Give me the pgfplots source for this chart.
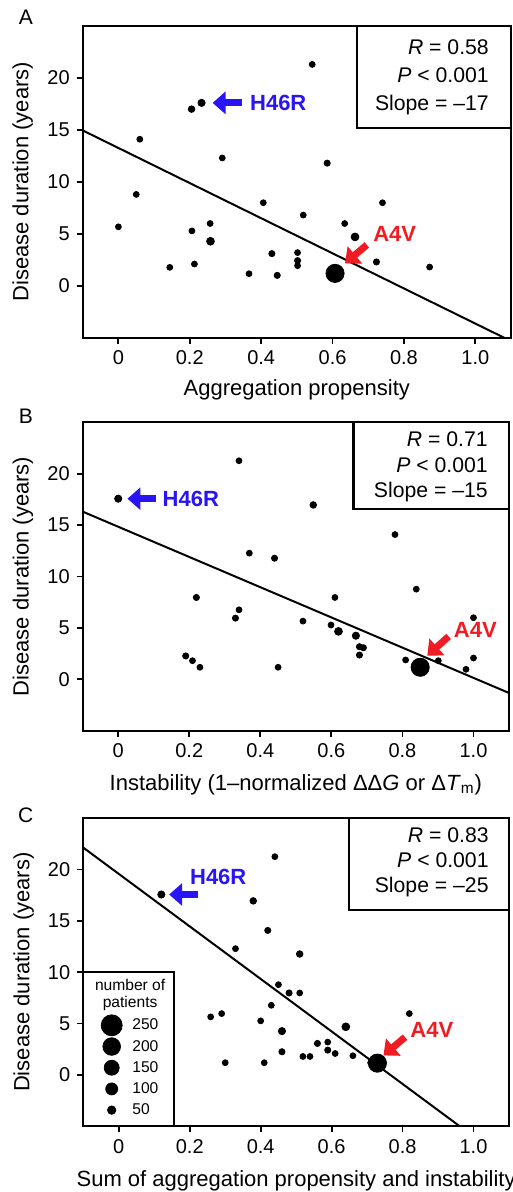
\documentclass[border=0pt]{standalone}
\usepackage{fontspec}
\setmainfont{Liberation Sans}
\usepackage{pgfplots}
\pgfplotsset{compat=1.18}
\usetikzlibrary{arrows.meta}
\definecolor{hblue}{RGB}{40,20,245}
\definecolor{ared}{RGB}{240,28,36}

\pgfplotsset{
  panel/.style={
    scale only axis, anchor=north west,
    xmin=-0.1, xmax=1.1, ymin=-5, ymax=25,
    xtick={0,0.2,0.4,0.6,0.8,1.0}, xticklabels={0,0.2,0.4,0.6,0.8,1.0},
    ytick={0,5,10,15,20},
    tick align=outside, tick pos=left,
    major tick length=3pt,
    every tick/.style={black, line width=0.9pt},
    axis line style={line width=1.1pt},
    tick label style={font=\fontsize{10}{12}\selectfont},
    /pgf/number format/assume math mode=true,
    label style={font=\fontsize{11}{13}\selectfont},
    ylabel={Disease duration (years)},
    ylabel style={at={(axis description cs:-0.14,0.5)}, anchor=center},
    clip mode=individual,
  },
  dots/.style={only marks, mark=*, black, scatter,
    scatter/use mapped color={draw=black, fill=black},
    visualization depends on={0.33*sqrt(\thisrow{n}) \as \psize},
    scatter/@pre marker code/.append style={/tikz/mark size=\psize},
    forget plot},
  fitline/.style={black, line width=1pt, forget plot, no marks},
}
\tikzset{
  stat/.style={anchor=base east, inner sep=0pt, font=\fontsize{10.6}{12.6}\selectfont},
  lab/.style={inner sep=0pt, anchor=west, font=\bfseries\fontsize{11}{13}\selectfont},
  harrow/.style={line width=3.5pt, -{Triangle[length=6.5pt,width=11pt]}},
}

\begin{document}
\begin{tikzpicture}
\useasboundingbox (0,0) rectangle (256.5pt,-596pt);

\node[font=\fontsize{10.5}{12.6}\selectfont] at (12.9pt,-8.75pt) {A};
\node[font=\fontsize{10.5}{12.6}\selectfont] at (12.9pt,-208.3pt) {B};
\node[font=\fontsize{10.5}{12.6}\selectfont] at (12.9pt,-407.7pt) {C};

% ---------------- Panel A
\begin{axis}[panel, at={(41.35pt,-13pt)}, width=214.15pt, height=155.85pt,
  xlabel={Aggregation propensity},
  xlabel style={at={(axis description cs:0.5,0)}, anchor=base, yshift=-29pt}]
\addplot[fitline] coordinates {(-0.1,14.95) (1.1,-5.33)};
\addplot[dots] table {
x y n
0.000 5.67 20
0.050 8.79 20
0.060 14.10 20
0.144 1.77 20
0.206 5.28 20
0.213 2.09 20
0.205 17.00 25
0.233 17.60 30
0.257 5.99 20
0.258 4.28 35
0.291 12.30 20
0.366 1.16 20
0.406 7.99 20
0.430 3.09 22
0.445 1.00 22
0.502 3.19 20
0.502 2.42 22
0.502 1.93 20
0.518 6.80 20
0.543 21.30 20
0.585 11.80 22
0.607 1.19 190
0.634 5.99 20
0.663 4.70 35
0.723 2.29 22
0.740 7.99 20
0.872 1.80 20
};
\draw[line width=1.1pt] (rel axis cs:0.641,0.673) rectangle (rel axis cs:1,1);
\node[stat] at (rel axis cs:0.949,0.910) {\textit{R} = 0.58};
\node[stat] at (rel axis cs:0.949,0.818) {\textit{P} < 0.001};
\node[stat] at (rel axis cs:0.949,0.730) {Slope = –17};
\draw[hblue, harrow] (axis cs:0.345,17.6) -- (axis cs:0.264,17.6);
\node[lab, hblue] at (axis cs:0.368,17.6) {H46R};
\draw[ared, harrow] (axis cs:0.696,3.93) -- (axis cs:0.635,2.16);
\node[lab, ared] at (axis cs:0.713,4.97) {A4V};
\end{axis}

% ---------------- Panel B
\begin{axis}[panel, at={(41.35pt,-211.15pt)}, width=213.15pt, height=154.2pt,
  xlabel={Instability (1–normalized ΔΔ\textit{G} or Δ\textit{T}\textsubscript{m})},
  xlabel style={at={(axis description cs:0.5,0)}, anchor=base, yshift=-30pt}]
\addplot[fitline] coordinates {(-0.1,16.31) (1.1,-1.33)};
\addplot[dots] table {
x y n
0.000 17.57 30
0.190 2.27 22
0.209 1.81 20
0.230 1.17 20
0.220 7.96 22
0.330 5.95 22
0.340 6.76 20
0.340 21.26 20
0.369 12.27 20
0.440 11.78 22
0.450 1.17 20
0.520 5.66 20
0.549 16.96 25
0.599 5.28 20
0.610 7.96 20
0.620 4.66 35
0.669 4.24 30
0.679 3.17 22
0.690 3.07 22
0.679 2.36 22
0.779 14.08 20
0.809 1.88 20
0.839 8.77 20
0.850 1.17 190
0.901 1.81 20
0.979 0.97 20
1.000 5.99 20
1.000 2.07 20
};
\draw[line width=1.1pt] (rel axis cs:0.635,0.718) rectangle (rel axis cs:1,1);
\node[stat] at (rel axis cs:0.951,0.921) {\textit{R} = 0.71};
\node[stat] at (rel axis cs:0.951,0.837) {\textit{P} < 0.001};
\node[stat] at (rel axis cs:0.951,0.756) {Slope = –15};
\draw[hblue, harrow] (axis cs:0.106,17.57) -- (axis cs:0.026,17.57);
\node[lab, hblue] at (axis cs:0.124,17.57) {H46R};
\draw[ared, harrow] (axis cs:0.930,4.17) -- (axis cs:0.870,2.30);
\node[lab, ared] at (axis cs:0.944,4.8) {A4V};
\end{axis}

% ---------------- Panel C
\begin{axis}[panel, at={(41.65pt,-409.15pt)}, width=212.85pt, height=153.85pt,
  xlabel={Sum of aggregation propensity and instability},
  xlabel style={at={(axis description cs:0.5,0)}, anchor=base, yshift=-30.3pt},
  legend style={at={(axis description cs:0,0.363)}, anchor=north west,
    draw=none, fill=none, inner sep=0pt, row sep=0pt,
    nodes={inner sep=2pt, text height=5.6pt, text depth=1pt, font=\fontsize{7.8}{9}\selectfont}},
  legend cell align=left,
  legend image code/.code={\path[draw=none, fill=none] (0pt,-0.1pt) rectangle (22.35pt,0.1pt);
    \draw[#1, only marks, overlay] plot coordinates {(14pt,0pt)};}]
\addplot[fitline] coordinates {(-0.1,22.14) (1.1,-8.58)};
\addplot[dots] table {
x y n
0.120 17.57 30
0.259 5.64 20
0.290 5.96 20
0.300 1.17 20
0.329 12.29 20
0.379 16.95 25
0.400 5.25 20
0.410 1.17 20
0.420 14.07 22
0.430 6.77 20
0.440 21.26 20
0.450 8.78 20
0.460 4.25 30
0.460 2.24 22
0.480 7.97 22
0.510 11.77 25
0.510 7.97 20
0.519 1.78 20
0.539 1.78 20
0.560 3.05 22
0.589 3.18 20
0.589 2.40 22
0.610 2.07 20
0.640 4.67 35
0.660 1.85 20
0.710 1.17 20
0.729 1.13 190
0.819 5.96 20
};
\draw[line width=1.1pt] (rel axis cs:0.625,0.702) rectangle (rel axis cs:1,1);
\node[stat] at (rel axis cs:0.953,0.922) {\textit{R} = 0.83};
\node[stat] at (rel axis cs:0.953,0.841) {\textit{P} < 0.001};
\node[stat] at (rel axis cs:0.953,0.760) {Slope = –25};
\draw[hblue, harrow] (axis cs:0.222,17.57) -- (axis cs:0.142,17.57);
\node[lab, hblue] at (axis cs:0.200,19.28) {H46R};
\draw[ared, harrow] (axis cs:0.807,3.66) -- (axis cs:0.746,1.88);
\node[lab, ared] at (axis cs:0.821,4.38) {A4V};
\draw[line width=1.1pt] (rel axis cs:0,0) rectangle (rel axis cs:0.213,0.501);
\node[anchor=base, inner sep=0pt, font=\fontsize{7.8}{9}\selectfont] at (rel axis cs:0.110,0.442) {number of};
\node[anchor=base, inner sep=0pt, font=\fontsize{7.8}{9}\selectfont] at (rel axis cs:0.110,0.386) {patients};
\addlegendimage{black, mark=*, mark size=5.25pt}\addlegendentry{250}
\addlegendimage{black, mark=*, mark size=4.4pt}\addlegendentry{200}
\addlegendimage{black, mark=*, mark size=3.75pt}\addlegendentry{150}
\addlegendimage{black, mark=*, mark size=3pt}\addlegendentry{100}
\addlegendimage{black, mark=*, mark size=2.1pt}\addlegendentry{50}
\end{axis}
\end{tikzpicture}
\end{document}
